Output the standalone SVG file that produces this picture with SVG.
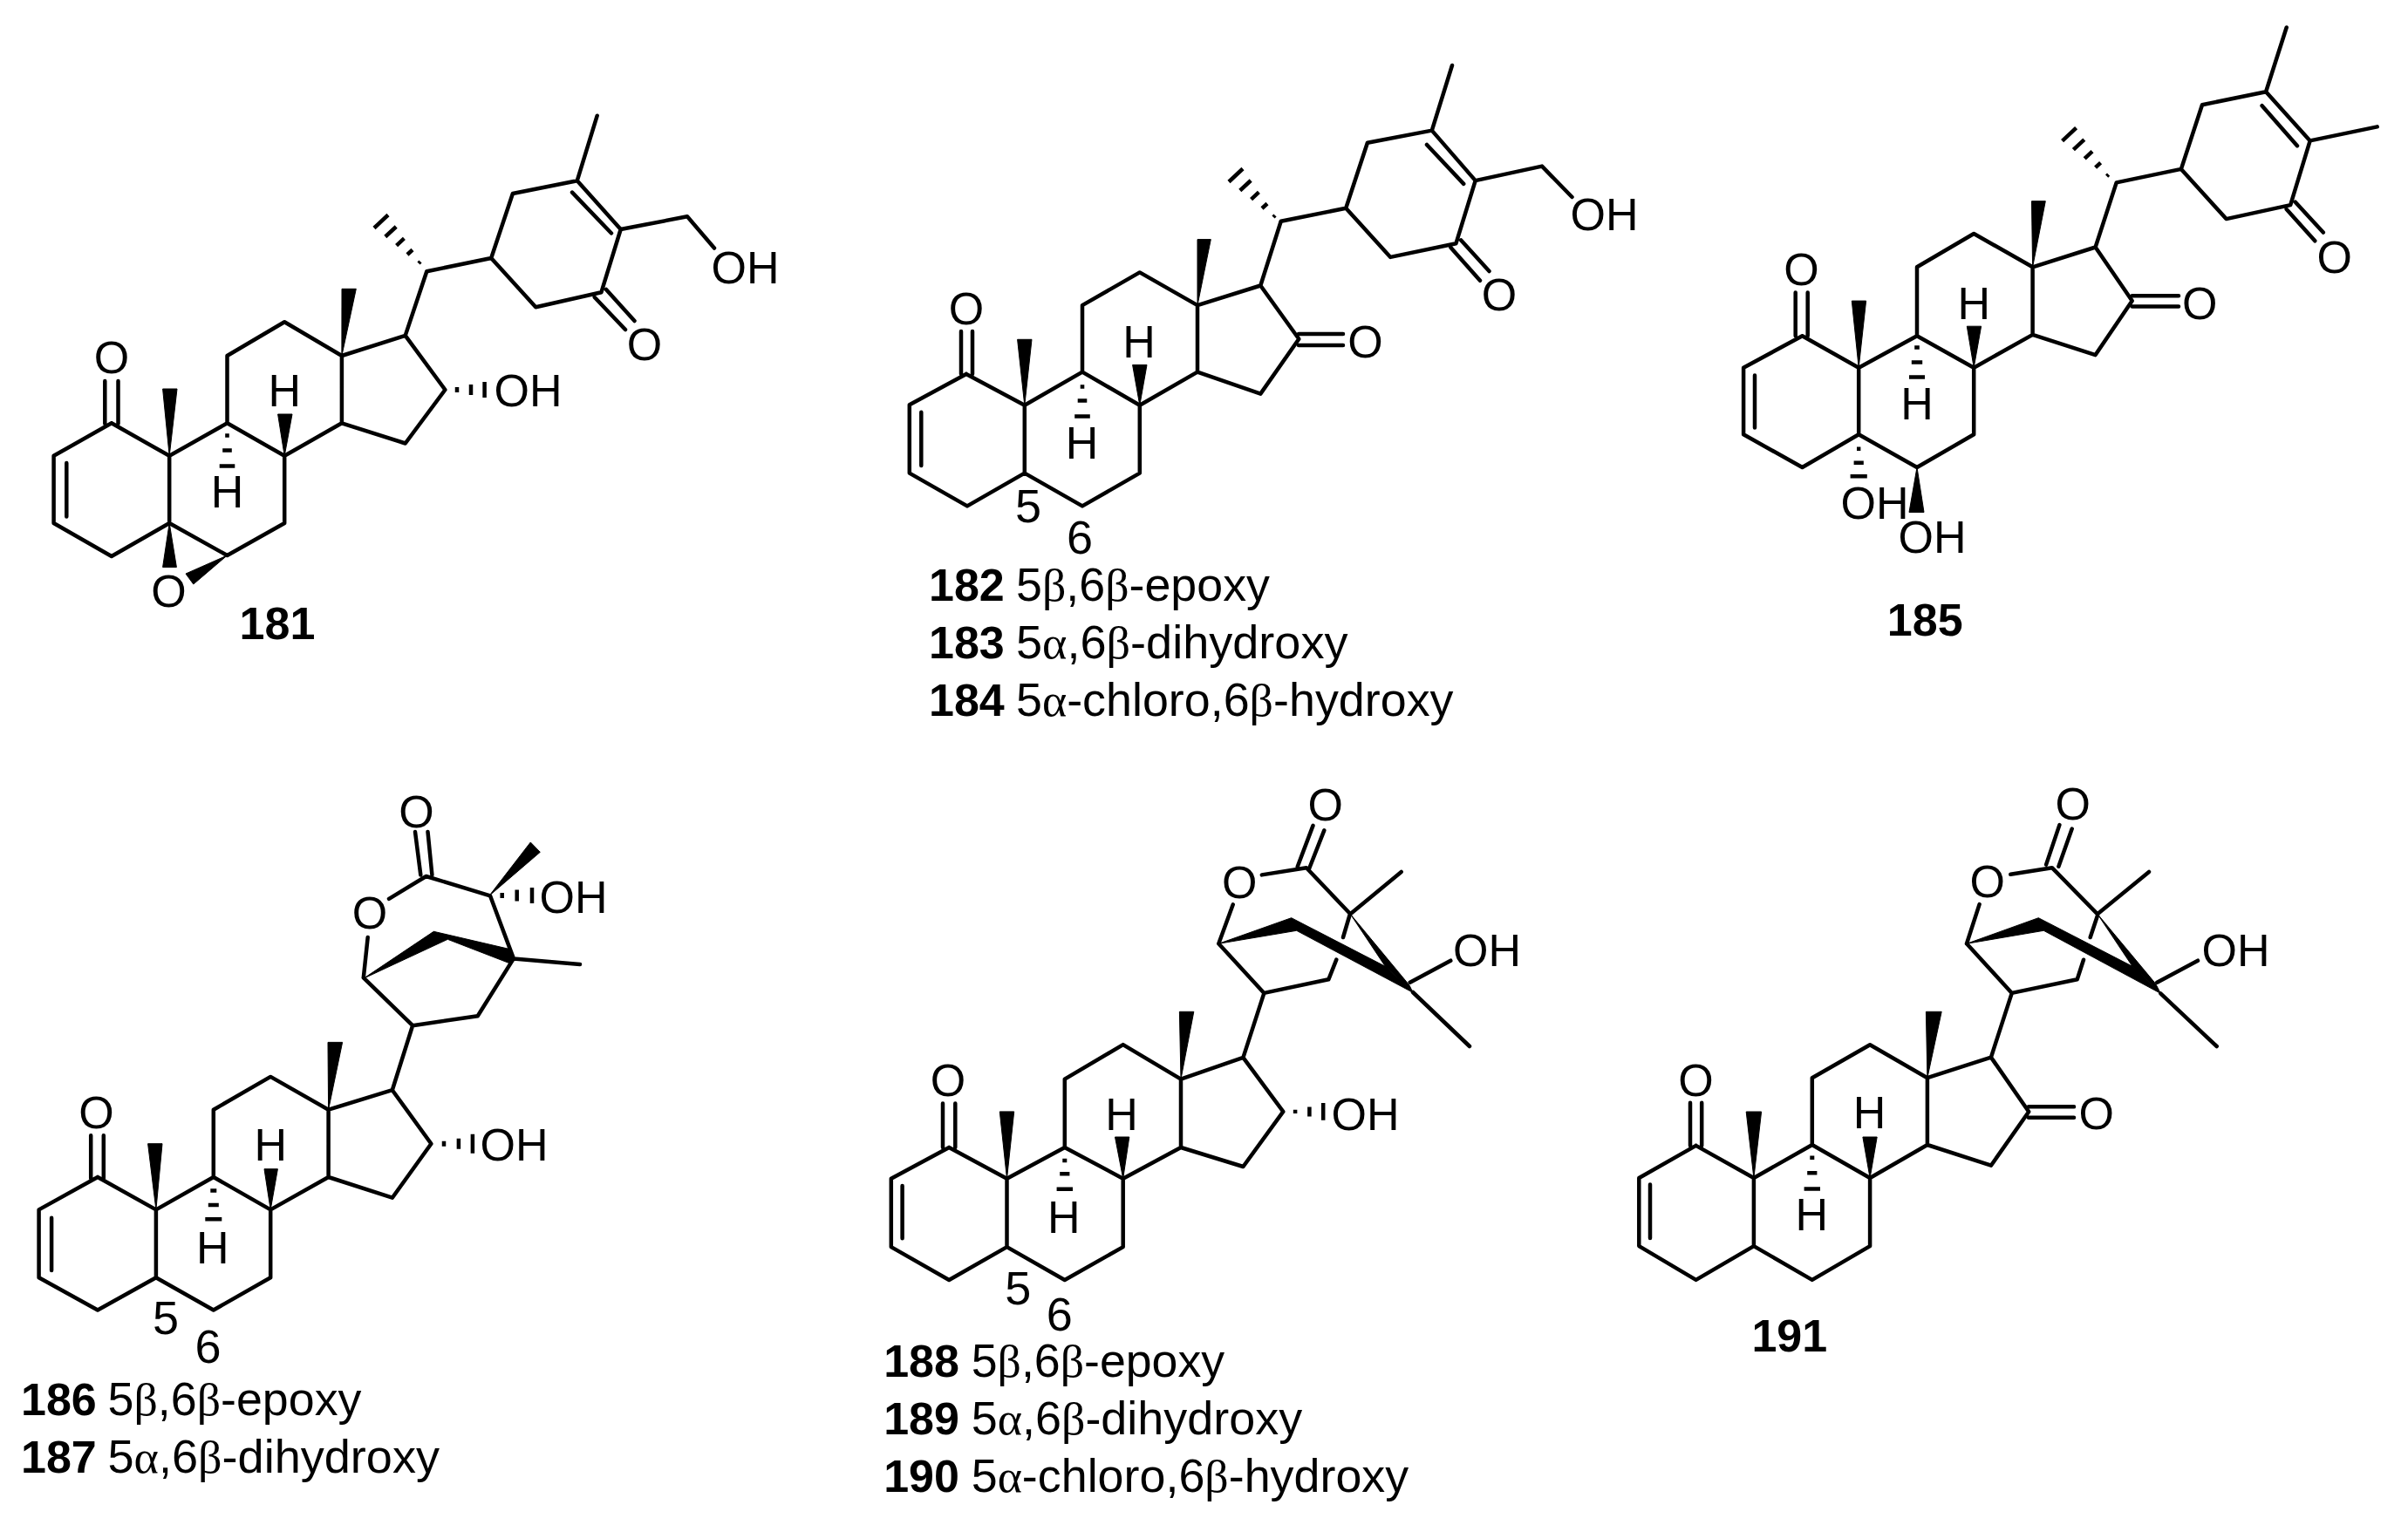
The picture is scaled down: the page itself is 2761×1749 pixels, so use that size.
<svg xmlns="http://www.w3.org/2000/svg" xmlns:xlink="http://www.w3.org/1999/xlink" width="2761" height="1749" viewBox="0 0 2761 1749">
<style>
.b{fill:none;stroke:#000;stroke-width:4.5;stroke-linejoin:round;stroke-linecap:round}
.h{fill:none;stroke:#000;stroke-width:4.5}
.w{fill:#000;stroke:#000;stroke-width:1;stroke-linejoin:round}
text{font-family:"Liberation Sans",Arial,sans-serif;fill:#000}
.a{font-size:52px;text-anchor:middle}
.l{font-size:52px}
.p{font-size:54px;text-anchor:middle}
.d{font-size:53.5px}
.n{font-size:52px;font-weight:bold}
.g{font-family:"Liberation Serif","Times New Roman",serif}
</style>
<defs>
<path id="me-hash" class="h" d="M-1 1L1 -1M-14 -9L-8 -14.5M-26.4 -19.4L-17.6 -27.6M-39.2 -29.5L-26.8 -41M-52 -39.5L-36 -54.5"/>
</defs>
<g id="compound-181">
<path class="b" d="M127.9 485.3L61.6 522.8V600L127.9 638L194.2 600V522.8L127.9 485.3M194.2 600L260.5 637L326.2 600V522.8L260.5 485.3L194.2 522.8M260.5 485.3V408L326.2 369.3L391.9 408V485.3L326.2 522.8M391.9 485.3L464.7 508.5L510.4 447L464.7 384.9L391.9 408M464.7 384.9L489.3 311.2L563.2 296L587.9 222L661.8 207.2L711.7 263L689.4 335.3L614.3 352.3L563.2 296M661.8 207.2L684.7 132.7M711.7 263L788 248.3L819 284.5M656 220.6L701 267.5M695 332L727.5 368M681.8 341L717 378M120.3 437V486M135.5 437V486M76.3 531V592.5"/>
<polygon class="w" points="194.2,522.8 186.6,446 203,446"/>
<polygon class="w" points="326.2,522.8 318.6,475 335,475"/>
<polygon class="w" points="391.9,408 392,331.3 408.3,331.3"/>
<polygon class="w" points="194.2,600 186.6,650.5 202.4,650.5"/>
<polygon class="w" points="260.5,637 213,658 221.8,670"/>
<path class="h" d="M258.2 499.6H262.8M255.2 516.6H265.8M251.7 534.4H269.3M524 444V450M540 441V453M555.6 438V456"/>
<use xlink:href="#me-hash" href="#me-hash" x="481" y="301"/>
<text class="a" x="128" y="427.5">O</text>
<text class="a" x="326.2" y="466.3">H</text>
<text class="a" x="260.5" y="581.5">H</text>
<text class="l" x="566.5" y="466">OH</text>
<text class="l" x="815.5" y="325">OH</text>
<text class="a" x="739" y="412.7">O</text>
<text class="a" x="193.6" y="696.2">O</text>
<text class="n" x="274.6" y="732.5">181</text>
</g>
<g id="compound-182">
<path class="b" d="M1107.9 428.9L1042.8 464.3V542.6L1109 580.4L1174.8 542.6V464.8L1107.9 428.9M1174.8 542.6L1241 580.4L1306.8 542.6V464.8L1241 426.6L1174.8 464.8M1241 426.6V350.1L1306.8 312.4L1373 350.1V426.6L1306.8 464.8M1373 426.6L1445.3 451.6L1489.3 388.8L1445.3 327.5L1373 350.1M1445.3 327.5L1468.7 253.8L1543.2 238.7L1567.9 163.7L1641.8 149.6L1691.7 207.1L1669.4 279.3L1594.3 294.9L1543.2 238.7M1641.8 149.6L1665 75M1691.7 207.1L1768 190.6L1802.5 226M1636 166L1678.2 210.9M1675.2 275.5L1707.5 311M1663.5 284L1697 321.8M1102 380V429M1115 380V429M1056.3 472.8V534M1489 383H1540M1489 396H1540"/>
<polygon class="w" points="1174.8,464.8 1166.6,389.3 1183,389.3"/>
<polygon class="w" points="1306.8,464.8 1298.6,418.5 1315,418.5"/>
<polygon class="w" points="1373,350.1 1373,274.6 1388.3,274.6"/>
<path class="h" d="M1238.7 443.5H1243.3M1235.7 459.6H1246.3M1232.2 477.5H1249.8"/>
<use xlink:href="#me-hash" href="#me-hash" x="1461" y="248"/>
<text class="a" x="1107.9" y="371.9">O</text>
<text class="a" x="1306" y="409.6">H</text>
<text class="a" x="1240.5" y="526">H</text>
<text class="a" x="1565.5" y="409.6">O</text>
<text class="a" x="1719" y="356.3">O</text>
<text class="l" x="1800.5" y="264">OH</text>
<text class="p" x="1179" y="599">5</text>
<text class="p" x="1238" y="635">6</text>
<text class="n" x="1065" y="689">182</text>
<text class="d" x="1165" y="689" textLength="291" lengthAdjust="spacingAndGlyphs">5<tspan class="g">β</tspan>,6<tspan class="g">β</tspan>-epoxy</text>
<text class="n" x="1065" y="755">183</text>
<text class="d" x="1165" y="755" textLength="380.5" lengthAdjust="spacingAndGlyphs">5<tspan class="g">α</tspan>,6<tspan class="g">β</tspan>-dihydroxy</text>
<text class="n" x="1065" y="821">184</text>
<text class="d" x="1165" y="821" textLength="501.5" lengthAdjust="spacingAndGlyphs">5<tspan class="g">α</tspan>-chloro,6<tspan class="g">β</tspan>-hydroxy</text>
</g>
<g id="compound-185">
<path class="b" d="M2066.5 385.3L1999.1 421.7V498.3L2066.5 536L2131.2 498.3V421.7L2066.5 385.3M2131.2 498.3L2198 536L2263.2 498.3V421.7L2198 385.3L2131.2 421.7M2198 385.3V306.3L2263.2 268L2330.6 306.3V383.9L2263.2 421.7M2330.6 383.9L2402.6 407.1L2444.7 345.1L2402.6 283.5L2330.6 306.3M2402.6 283.5L2426.7 209.4L2500.9 193.9L2525 120.2L2598.1 105.2L2648.7 161.4L2626.2 235.1L2552.6 251.1L2500.9 193.9M2598.1 105.2L2621.7 31.5M2648.7 161.4L2725.7 145.4M2593.6 121.2L2634 167.2M2631.8 231.7L2663.8 266.6M2621.7 240L2654.3 276.3M2444.7 339.3H2498M2444.7 351.4H2498M2058.7 335.4V385.3M2072.7 335.4V385.3M2012 430.4V490.5"/>
<polygon class="w" points="2131.2,421.7 2123.3,345.1 2139.6,345.1"/>
<polygon class="w" points="2263.2,421.7 2255.3,374.2 2271.6,374.2"/>
<polygon class="w" points="2330.6,306.3 2329.5,230.7 2345.3,230.7"/>
<polygon class="w" points="2198,536 2189,587.5 2206,587.5"/>
<path class="h" d="M2195.2 398.4H2200.8M2191.8 415.4H2204.2M2189 432.4H2207M2129 514.7H2133.4M2125.6 530.7H2136.8M2121.6 546.3H2140.8"/>
<use xlink:href="#me-hash" href="#me-hash" x="2416.6" y="201.2"/>
<text class="a" x="2065.4" y="326.8">O</text>
<text class="a" x="2263.2" y="365.5">H</text>
<text class="a" x="2198" y="480.9">H</text>
<text class="a" x="2522.3" y="365.5">O</text>
<text class="a" x="2676.8" y="312.7">O</text>
<text class="l" x="2110.5" y="594.8">OH</text>
<text class="l" x="2176.5" y="633.6">OH</text>
<text class="n" x="2163.8" y="728.5">185</text>
</g>
<g id="compound-186">
<path class="b" d="M112 1350L44.6 1387.4V1465.3L112 1502.5L178.9 1465.3V1387.4L112 1350M178.9 1465.3L244.8 1502.5L310.2 1465.3V1387.4L244.8 1350L178.9 1387.4M244.8 1350V1272.7L310.2 1234.9L376.6 1272.7V1350L310.2 1387.4M376.6 1350L449.8 1373.7L494.4 1311.7L449.8 1250.2L376.6 1272.7M449.8 1250.2L473.1 1176.2L416.8 1121.3M473.1 1176.2L547.7 1165.2L588.9 1099.4L665 1106M588.9 1099.4L562 1027.3L488.6 1005L446 1030.8M421.7 1075L416.8 1121.3M476 954L482.3 1003.4M490.5 954L495.4 1003.4M104.2 1302.3V1351.7M118.8 1302.3V1351.7M59.1 1396.7V1457"/>
<polygon class="w" points="178.9,1387.4 169.6,1311.7 186,1311.7"/>
<polygon class="w" points="310.2,1387.4 303,1340.7 318.4,1340.7"/>
<polygon class="w" points="376.6,1272.7 376,1195.4 392.6,1195.4"/>
<polygon class="w" points="561,1027.3 608.3,966 619.3,977.3"/>
<polygon class="w" points="416.7,1122.3 497.3,1068.3 583.3,1088.3 588.3,1100 585,1105 513.3,1077.3"/>
<path class="h" d="M241.3 1365.4H248.3M238.8 1381.9H250.8M235.3 1398.3H254.3M509 1308.7V1314.7M525.9 1305.7V1317.7M541.9 1300.7V1322.7M575.7 1024V1030M592.7 1020.5V1033.5M610 1018V1036"/>
<text class="a" x="110.5" y="1294">O</text>
<text class="a" x="310.2" y="1331.3">H</text>
<text class="a" x="243.8" y="1449">H</text>
<text class="l" x="550.5" y="1331.3">OH</text>
<text class="a" x="424.1" y="1065.3">O</text>
<text class="a" x="477.4" y="948.5">O</text>
<text class="l" x="618.5" y="1047">OH</text>
<text class="p" x="190" y="1530">5</text>
<text class="p" x="238.5" y="1563">6</text>
<text class="n" x="24" y="1623">186</text>
<text class="d" x="123.5" y="1623" textLength="291" lengthAdjust="spacingAndGlyphs">5<tspan class="g">β</tspan>,6<tspan class="g">β</tspan>-epoxy</text>
<text class="n" x="24" y="1689">187</text>
<text class="d" x="123.5" y="1689" textLength="380.5" lengthAdjust="spacingAndGlyphs">5<tspan class="g">α</tspan>,6<tspan class="g">β</tspan>-dihydroxy</text>
</g>
<g id="compound-188">
<path class="b" d="M1088.2 1316L1021.8 1351.7V1430.1L1088.2 1468L1154.5 1430.1V1351.7L1088.2 1316M1154.5 1430.1L1220.8 1468L1287.7 1430.1V1351.7L1220.8 1316L1154.5 1351.7M1220.8 1316V1237.6L1287.7 1198.1L1354 1237.6V1316L1287.7 1351.7M1354 1316L1425.4 1338L1471.3 1274.9L1425.4 1212.9L1354 1237.6M1425.4 1212.9L1449.4 1138.9L1397.3 1082.3M1449.4 1138.9L1523.3 1123.3L1532.3 1100.7M1548 1048L1540 1075M1548.3 1048.3L1497.9 995.2L1446.8 1003.4M1413.7 1037.4L1397.3 1082.3M1548.3 1048.3L1606.7 1000M1616.7 1126.7L1663.3 1101.7M1620 1138L1685 1200M1505.5 946.9L1487.7 994M1518.3 952.4L1500.4 998M1081 1265.6V1316M1095.3 1265.6V1316M1034.6 1360V1420.3"/>
<polygon class="w" points="1154.5,1351.7 1146.3,1274.9 1162.7,1274.9"/>
<polygon class="w" points="1287.7,1351.7 1278.5,1304 1294.8,1304"/>
<polygon class="w" points="1354,1237.6 1352.4,1160.3 1368.8,1160.3"/>
<polygon class="w" points="1397.3,1082.3 1480.7,1052.7 1588.3,1108.3 1620,1138.3 1486.7,1067.3"/>
<polygon class="w" points="1548.3,1048.3 1616,1130 1620,1138.3 1588.3,1108.3"/>
<path class="h" d="M1218.3 1330.9H1223.3M1215.2 1346.2H1226.4M1211.6 1363.8H1230M1485.1 1272.7V1277.1M1501.4 1269.4V1280.4M1517.2 1265V1284.8"/>
<text class="a" x="1087.1" y="1257.3">O</text>
<text class="a" x="1286" y="1295.7">H</text>
<text class="a" x="1219.8" y="1413.6">H</text>
<text class="l" x="1526.5" y="1295.7">OH</text>
<text class="a" x="1421.3" y="1029.6">O</text>
<text class="a" x="1519.8" y="940.8">O</text>
<text class="l" x="1666" y="1107.5">OH</text>
<text class="p" x="1167.2" y="1496">5</text>
<text class="p" x="1214.7" y="1526">6</text>
<text class="n" x="1013.2" y="1579">188</text>
<text class="d" x="1113.7" y="1579" textLength="290.5" lengthAdjust="spacingAndGlyphs">5<tspan class="g">β</tspan>,6<tspan class="g">β</tspan>-epoxy</text>
<text class="n" x="1013.2" y="1645">189</text>
<text class="d" x="1113.7" y="1645" textLength="379.5" lengthAdjust="spacingAndGlyphs">5<tspan class="g">α</tspan>,6<tspan class="g">β</tspan>-dihydroxy</text>
<text class="n" x="1013.2" y="1711">190</text>
<text class="d" x="1113.7" y="1711" textLength="501.5" lengthAdjust="spacingAndGlyphs">5<tspan class="g">α</tspan>-chloro,6<tspan class="g">β</tspan>-hydroxy</text>
</g>
<g id="compound-191">
<path class="b" d="M1944.6 1313.9L1879.3 1351V1429.1L1944.6 1467.9L2010.9 1429.1V1351L1944.6 1313.9M2010.9 1429.1L2077.8 1467.9L2144.1 1429.1V1351L2077.8 1313L2010.9 1351M2077.8 1313V1236.2L2144.1 1198.3L2209.9 1236.2V1313L2144.1 1351M2209.9 1313L2282.9 1336.7L2326.2 1275L2282.9 1212.6L2209.9 1236.2M2282.9 1212.6L2306.8 1138.9L2255 1082.3M2306.8 1138.9L2381.7 1123.3L2389 1100.7M2405 1050L2396.7 1075M2405 1048.3L2352.8 995.2L2305.3 1002.8M2269.6 1037.1L2255 1082.3M2405 1048.3L2464 1000M2473.3 1126.7L2520 1101.7M2477.3 1139.3L2541.7 1200M2361.4 946.1L2346.1 991.6M2375.7 950.5L2360.4 993.8M1938 1264.8V1313.9M1951.2 1264.8V1313.9M1892 1358.5V1420M2326 1269.3H2378M2326 1281.8H2378"/>
<polygon class="w" points="2010.9,1351 2002.2,1275 2019.6,1275"/>
<polygon class="w" points="2144.1,1351 2135.9,1304 2152.2,1304"/>
<polygon class="w" points="2209.9,1236.2 2208.4,1160.3 2226.2,1160.3"/>
<polygon class="w" points="2255,1082.3 2337.3,1052.7 2445,1108.3 2477.3,1139.3 2343.3,1067.3"/>
<polygon class="w" points="2405,1048.3 2471.7,1128.3 2477.3,1139.3 2445,1108.3"/>
<path class="h" d="M2075.3 1327.7H2080.3M2072.2 1345.2H2083.4M2068.6 1363.4H2087"/>
<text class="a" x="1944.6" y="1256.5">O</text>
<text class="a" x="2143.6" y="1294.4">H</text>
<text class="a" x="2077.2" y="1411.4">H</text>
<text class="a" x="2403.8" y="1295.3">O</text>
<text class="a" x="2278.8" y="1028.8">O</text>
<text class="a" x="2376.7" y="939.5">O</text>
<text class="l" x="2524.5" y="1107.8">OH</text>
<text class="n" x="2008.4" y="1550">191</text>
</g>
</svg>
